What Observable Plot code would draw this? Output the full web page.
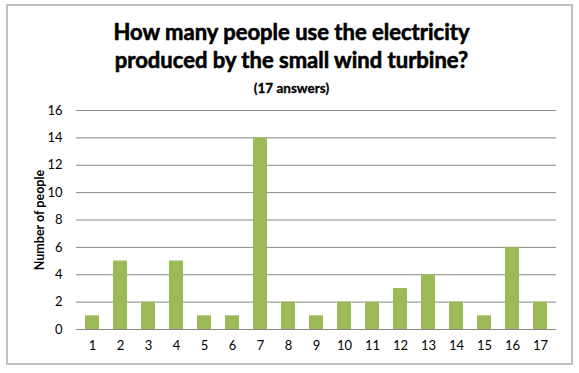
<!DOCTYPE html>
<html>
<head>
<meta charset="utf-8">
<script src="https://cdn.jsdelivr.net/npm/d3@7"></script>
<script src="https://cdn.jsdelivr.net/npm/@observablehq/plot@0.6"></script>
<style>
  html, body { margin: 0; padding: 0; background: #fff; }
  body { width: 579px; height: 373px; position: relative; overflow: hidden; font-family: Lato, "Open Sans", sans-serif; }
  #frame { position: absolute; left: 6px; top: 4px; width: 567px; height: 361px; border: 2px solid #c0c0c0; box-sizing: border-box; pointer-events: none; }
  #title { position: absolute; left: 0; top: 0; width: 583px; height: 95px; text-align: center; color: #000; }
  #title .t { position: absolute; left: 0; width: 100%; top: 18px; font-size: 22px; line-height: 28px; font-weight: bold; -webkit-text-stroke: 0.6px #000; }
  #title .s { position: absolute; left: 0; width: 100%; top: 80px; font-size: 13.5px; line-height: 16px; font-weight: bold; -webkit-text-stroke: 0.3px #000; }
  #chart { position: absolute; left: 0; top: 95px; }
</style>
</head>
<body>
<div id="title">
  <div class="t">How many people use the electricity<br>produced by the small wind turbine?</div>
  <div class="s">(17 answers)</div>
</div>
<div id="chart"></div>
<div id="frame"></div>
<script>
const categories = ["1","2","3","4","5","6","7","8","9","10","11","12","13","14","15","16","17"];
const counts = [1,5,2,5,1,1,14,2,1,2,2,3,4,2,1,6,2];
const yTicks = [0,2,4,6,8,10,12,14,16];
const yLabel = "Number of people";

const data = categories.map((c, i) => ({category: c, count: counts[i]}));

const chart = Plot.plot({
  width: 579,
  height: 278,
  marginLeft: 76,
  marginRight: 23,
  marginTop: 15,
  marginBottom: 44,
  style: { fontFamily: "Lato, 'Open Sans', sans-serif", fontSize: "13px", color: "#000", background: "transparent" },
  x: { domain: categories, paddingInner: 0.5, paddingOuter: 0.25, label: null },
  y: { domain: [0, 16], ticks: yTicks, label: null },
  marks: [
    Plot.gridY(yTicks, { stroke: "#868686", strokeOpacity: 1 }),
    Plot.ruleX([0], { frameAnchor: "left", stroke: "#868686" }),
    Plot.barY(data, { x: "category", y: "count", fill: "#9bbb59" }),
    Plot.ruleY([0], { stroke: "#868686" }),
    Plot.axisX({ tickSize: 0, tickPadding: 11, label: null }),
    Plot.axisY({ ticks: yTicks, tickSize: 0, tickPadding: 14, label: null }),
    Plot.text([yLabel], { text: d => d, frameAnchor: "left", textAnchor: "middle", lineAnchor: "middle", dx: -37, rotate: -90, fontWeight: "bold", fontSize: 12.5, fill: "#000" })
  ]
});
document.getElementById("chart").appendChild(chart);
</script>
</body>
</html>
